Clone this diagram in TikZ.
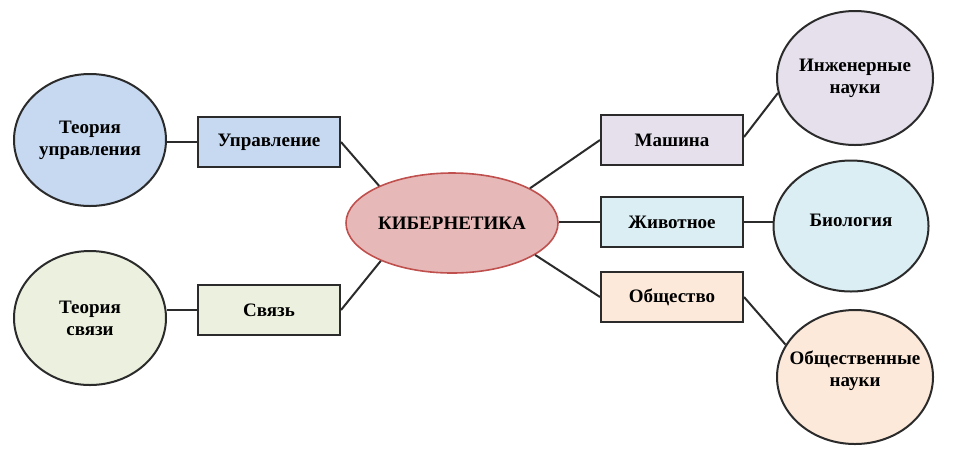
\documentclass[tikz,border=0pt]{standalone}
\usepackage{fontspec}
\setmainfont{Liberation Serif}
\usetikzlibrary{shapes.geometric}
\definecolor{cblue}{HTML}{C6D9F1}
\definecolor{cgreen}{HTML}{EBF1DE}
\definecolor{cred}{HTML}{E6B9B8}
\definecolor{credb}{HTML}{C0504D}
\definecolor{cpurple}{HTML}{E5E0EC}
\definecolor{ccyan}{HTML}{DBEEF4}
\definecolor{cpeach}{HTML}{FDE9D9}
\definecolor{cline}{HTML}{2B2B2B}
\newcommand{\zw}[1]{\makebox[0pt]{#1}}
\tikzset{
  oval/.style={ellipse, draw=cline, line width=2pt, inner sep=0pt,
    minimum width=152pt, minimum height=132pt, align=center,
    font=\fontsize{19}{22}\selectfont\bfseries},
  boxnode/.style={rectangle, draw=cline, line width=2pt, inner sep=0pt,
    minimum width=142pt, minimum height=50pt, align=center,
    font=\fontsize{19}{22}\selectfont\bfseries},
  link/.style={draw=cline, line width=2pt}
}
\begin{document}
\begin{tikzpicture}[x=1pt,y=-1pt]
\useasboundingbox (0,0) rectangle (960,475);
% left
\node[oval, fill=cblue] (tu) at (90,140) {\zw{Теория}\\\zw{управления}};
\node[boxnode, fill=cblue] (upr) at (269,142) {Управление};
\node[oval, fill=cgreen, minimum height=134pt] (ts) at (90,318) {\zw{Теория}\\\zw{связи}};
\node[boxnode, fill=cgreen] (svz) at (269,310) {Связь};
% center
\node[ellipse, draw=credb, line width=1.6pt, fill=cred, inner sep=0pt,
  minimum width=212pt, minimum height=100pt,
  font=\fontsize{19}{22}\selectfont\bfseries] (kib) at (452,223) {\zw{КИБЕРНЕТИКА}};
% right boxes
\node[boxnode, fill=cpurple] (mash) at (672,140) {Машина};
\node[boxnode, fill=ccyan] (zhiv) at (672,222) {Животное};
\node[boxnode, fill=cpeach] (obsh) at (672,297) {Общество};
% right ovals
\node[oval, fill=cpurple, minimum width=156pt, minimum height=134pt] (inzh) at (855,78) {\zw{Инженерные}\\\zw{науки}};
\node[oval, fill=ccyan, minimum width=155pt, minimum height=131pt, text depth=12pt] (bio) at (851,226) {\zw{Биология}};
\node[oval, fill=cpeach, minimum width=156pt, minimum height=134pt, text depth=16pt] (obn) at (855,377) {\zw{Общественные}\\\zw{науки}};
% links
\draw[link] (upr.west) -- (upr.west -| tu.east);
\draw[link] (svz.west) -- (svz.west -| ts.east);
\draw[link] (upr.east) -- (kib.153);
\draw[link] (svz.east) -- (kib.208);
\draw[link] (kib.24) -- (mash.west);
\draw[link] (zhiv.west) -- (zhiv.west -| kib.east);
\draw[link] (kib.339) -- (obsh.west);
\draw[link] ([yshift=3pt]mash.east) -- (inzh.191);
\draw[link] (zhiv.east) -- (zhiv.east -| bio.west);
\draw[link] (obsh.east) -- (obn.155);
\end{tikzpicture}
\end{document}
